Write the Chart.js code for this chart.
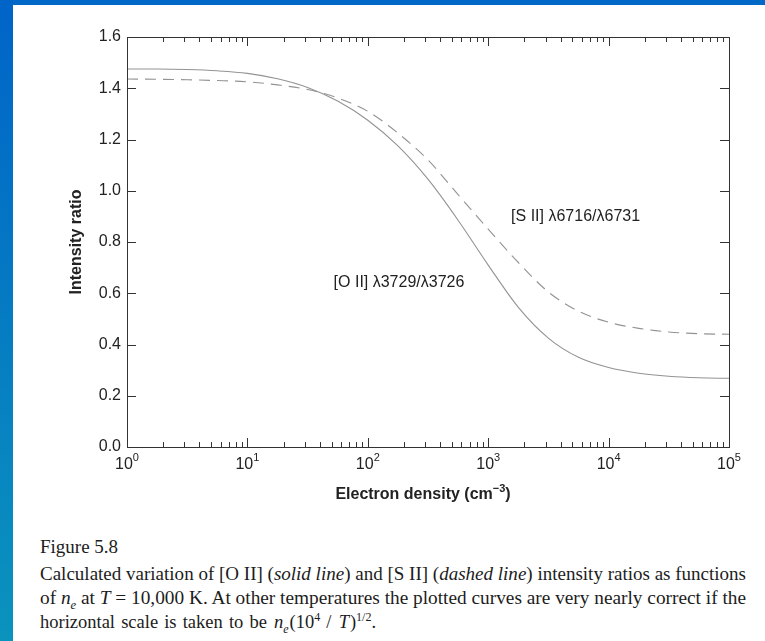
<!DOCTYPE html>
<html>
<head>
<meta charset="utf-8">
<script src="https://cdn.jsdelivr.net/npm/chart.js@4.4.0/dist/chart.umd.min.js"></script>
<style>
  html, body { margin: 0; padding: 0; background: #fff; }
  body { width: 765px; height: 641px; position: relative; overflow: hidden; }
  .band-top { position: absolute; left: 0; top: 0; width: 765px; height: 5px; background: #0068c6; }
  .band-left { position: absolute; left: 0; top: 0; width: 13px; height: 641px;
    background: linear-gradient(to bottom, #0064c8, #0a93bd); }
  .chart-box { position: absolute; left: 0; top: 0; width: 765px; height: 510px; }
  .caption { position: absolute; left: 40px; top: 536px; width: 706px;
    font-family: "Liberation Serif", "Times New Roman", serif; color: #1c1c1c; }
  .fig { font-size: 19px; line-height: 22px; height: 26px; }
  .line { font-size: 18.5px; line-height: 24px; height: 24px; white-space: nowrap; }
  .line span { display: inline-block; transform-origin: 0 50%; }
  .last { word-spacing: 1.5px; }
  .last i { margin: 0 1px; }
  sub, sup { line-height: 0; font-size: 12px; }
</style>
</head>
<body>
<div class="chart-box"><canvas id="chart" width="765" height="510"></canvas></div>
<div class="band-top"></div>
<div class="band-left"></div>
<div class="caption">
  <div class="fig">Figure 5.8</div>
  <div class="line"><span>Calculated variation of [O II] (<i>solid line</i>) and [S II] (<i>dashed line</i>) intensity ratios as functions</span></div>
  <div class="line"><span>of <i>n<sub>e</sub></i> at <i>T</i> = 10,000 K. At other temperatures the plotted curves are very nearly correct if the</span></div>
  <div class="line last"><span>horizontal scale is taken to be <i>n<sub>e</sub></i>(10<sup>4</sup> / <i>T</i>)<sup>1/2</sup>.</span></div>
</div>

<script>
// electron density, cm^-3 (quarter-decade steps)
const densities = [1, 1.78, 3.16, 5.62, 10, 17.8, 31.6, 56.2, 100, 178, 316, 562,
  1000, 1780, 3160, 5620, 10000, 17800, 31600, 56200, 100000];
// [O II] 3729/3726 (solid)
const oiiRatio = [1.475, 1.475, 1.473, 1.468, 1.458, 1.437, 1.403, 1.35, 1.275, 1.175, 1.045, 0.885,
  0.71, 0.545, 0.425, 0.35, 0.31, 0.288, 0.276, 0.27, 0.268];
// [S II] 6716/6731 (dashed)
const siiRatio = [1.436, 1.435, 1.433, 1.43, 1.425, 1.413, 1.395, 1.362, 1.31, 1.225, 1.12, 0.985,
  0.85, 0.72, 0.605, 0.53, 0.487, 0.463, 0.449, 0.442, 0.44];

const yTicks = [0, 0.2, 0.4, 0.6, 0.8, 1.0, 1.2, 1.4, 1.6];
const xDecades = [0, 1, 2, 3, 4, 5];

const FONT = '"Liberation Sans", Arial, sans-serif';
const INK = '#222';

// ***** frame, inward ticks, labels
const framePlugin = {
  id: 'frame',
  afterDraw(chart) {
    const { ctx, chartArea: a, scales: { x, y } } = chart;
    ctx.save();
    ctx.strokeStyle = '#333';
    ctx.lineWidth = 1;
    ctx.strokeRect(Math.round(a.left) + 0.5, Math.round(a.top) + 0.5,
      Math.round(a.right - a.left), Math.round(a.bottom - a.top));

    ctx.beginPath();
    for (let d = 0; d < 5; d++) {
      for (let m = 1; m <= 10; m++) {
        const px = Math.round(x.getPixelForValue(m * 10 ** d)) + 0.5;
        const len = (m === 1 || m === 10) ? 9 : 5;
        ctx.moveTo(px, a.bottom); ctx.lineTo(px, a.bottom - len);
        ctx.moveTo(px, a.top); ctx.lineTo(px, a.top + len);
      }
    }
    yTicks.forEach(v => {
      const py = Math.round(y.getPixelForValue(v)) + 0.5;
      ctx.moveTo(a.left, py); ctx.lineTo(a.left + 9, py);
      ctx.moveTo(a.right, py); ctx.lineTo(a.right - 9, py);
    });
    ctx.stroke();

    // x tick labels 10^n
    ctx.fillStyle = INK;
    ctx.textBaseline = 'alphabetic';
    ctx.textAlign = 'left';
    xDecades.forEach(n => {
      const px = x.getPixelForValue(10 ** n);
      ctx.font = '16px ' + FONT;
      const wb = ctx.measureText('10').width;
      ctx.font = '11px ' + FONT;
      const we = ctx.measureText(String(n)).width;
      const x0 = px - (wb + we) / 2;
      ctx.font = '16px ' + FONT;
      ctx.fillText('10', x0, a.bottom + 22);
      ctx.font = '11px ' + FONT;
      ctx.fillText(String(n), x0 + wb, a.bottom + 14);
    });

    // x title
    const parts = [['Electron density (cm', 'bold 16px ', 0], ['\u22123', 'bold 11px ', -7], [')', 'bold 16px ', 0]];
    let total = 0;
    parts.forEach(p => { ctx.font = p[1] + FONT; total += ctx.measureText(p[0]).width; });
    let cx = (a.left + a.right) / 2 - 5 - total / 2;
    parts.forEach(p => {
      ctx.font = p[1] + FONT;
      ctx.fillText(p[0], cx, a.bottom + 52 + p[2]);
      cx += ctx.measureText(p[0]).width;
    });

    // curve labels
    ctx.font = '16px ' + FONT;
    ctx.textBaseline = 'middle';
    ctx.fillText('[S II] \u03BB6716/\u03BB6731', x.getPixelForValue(1550), y.getPixelForValue(0.9));
    ctx.fillText('[O II] \u03BB3729/\u03BB3726', x.getPixelForValue(52), y.getPixelForValue(0.64));
    ctx.restore();
  },
};

const ctx = document.getElementById('chart').getContext('2d');

const chart = new Chart(ctx, {
  type: 'line',
  data: {
    datasets: [
      {
        label: '[O II]',
        data: densities.map((d, i) => ({ x: d, y: oiiRatio[i] })),
        borderColor: '#939393',
        borderWidth: 1.1,
        pointRadius: 0,
        cubicInterpolationMode: 'monotone',
        fill: false,
      },
      {
        label: '[S II]',
        data: densities.map((d, i) => ({ x: d, y: siiRatio[i] })),
        borderColor: '#939393',
        borderWidth: 1.1,
        borderDash: [11, 7],
        pointRadius: 0,
        cubicInterpolationMode: 'monotone',
        fill: false,
      },
    ],
  },
  options: {
    responsive: false,
    devicePixelRatio: 1,
    animation: false,
    layout: { padding: { left: 62, right: 36, top: 37, bottom: 0 } },
    plugins: { legend: { display: false }, tooltip: { enabled: false } },
    scales: {
      x: {
        type: 'logarithmic',
        min: 1,
        max: 100000,
        afterFit(s) { s.height = 63; },
        ticks: { display: false },
        grid: { display: false, drawTicks: false },
        border: { display: false },
      },
      y: {
        min: 0,
        max: 1.6,
        afterFit(s) { s.width = 65; },
        afterBuildTicks(s) { s.ticks = yTicks.map(v => ({ value: v })); },
        ticks: {
          callback: v => v.toFixed(1),
          font: { family: FONT, size: 16 },
          color: INK,
          padding: 6,
        },
        grid: { display: false, drawTicks: false },
        border: { display: false },
        title: {
          display: true,
          text: 'Intensity ratio',
          font: { family: FONT, size: 16, weight: 'bold' },
          color: INK,
          padding: { top: 5, bottom: 4 },
        },
      },
    },
  },
  plugins: [framePlugin],
});

// fit the two full caption lines to the column width; last line keeps its own width
document.querySelectorAll('.line span').forEach((el, i) => {
  if (i > 1) return;
  const w = el.getBoundingClientRect().width;
  el.style.transform = 'scaleX(' + (706 / w).toFixed(4) + ')';
});
</script>
</body>
</html>
